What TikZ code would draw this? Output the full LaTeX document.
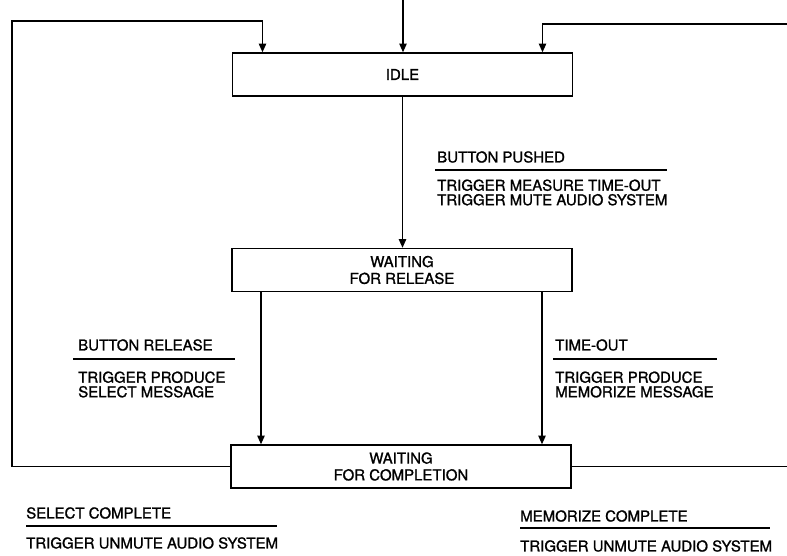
\documentclass[tikz,border=0pt]{standalone}
\usepackage{fontspec}
\setmainfont{TeX Gyre Heros}
\newfontfamily\diagfont{TeX Gyre Heros}[FakeBold=1.2]
\usetikzlibrary{arrows.meta,positioning}

\begin{document}
\begin{tikzpicture}[
    x=0.03cm, y=-0.03cm,
    statebox/.style={rectangle, draw=black, line width=1.2pt,
                     minimum width=10.2cm, minimum height=1.29cm, align=center,
                     inner sep=0pt, font=\diagfont\fontsize{12.8}{14.3}\selectfont},
    evtext/.style={anchor=west, inner sep=0pt, align=left,
                   font=\diagfont\fontsize{12.8}{12.4}\selectfont},
    wire/.style={line width=1.2pt},
    arr/.style={-{Triangle[length=0.26cm, width=0.22cm]}, line width=1.2pt}
  ]
    \useasboundingbox (0,0) rectangle (787,555);

    % States
    \node[statebox] (idle)  at (402.5, 74.5) {IDLE};
    \node[statebox] (wrel)  at (402,  270)   {WAITING\\FOR RELEASE};
    \node[statebox] (wcomp) at (401,  466.5) {WAITING\\FOR COMPLETION};

    % Free ends leaving the picture
    \coordinate (entry) at (403, 0);
    \coordinate (retL)  at (12,  21);
    \coordinate (retR)  at (787, 24);
    \coordinate (outR)  at (787, 468);

    \draw[arr] (entry) -- (entry |- idle.north);
    \draw[arr] (wcomp.west) -| (retL) -| ([xshift=-4.2cm]idle.north);
    \draw[arr] (retR) -| ([xshift=4.2cm]idle.north);
    \draw[wire] (wcomp.east) -- (wcomp.east -| outR);

    \draw[arr] (idle.south) -- (idle.south |- wrel.north);
    \draw[arr] ([xshift=-4.23cm]wrel.south) -- ([xshift=-4.23cm]wrel.south |- wcomp.north);
    \draw[arr] ([xshift=4.2cm]wrel.south) -- ([xshift=4.2cm]wrel.south |- wcomp.north);

    % Transition labels: event over the rule, action under it
    \node[evtext] (pushed)    at (437, 157)   {BUTTON PUSHED};
    \draw[wire] (435, 170) -- (667, 170);
    \node[evtext] (pushedact) at (437, 192.5) {TRIGGER MEASURE TIME-OUT\\TRIGGER MUTE AUDIO SYSTEM};

    \node[evtext] (release)    at (78, 345)   {BUTTON RELEASE};
    \draw[wire] (73, 359) -- (235, 359);
    \node[evtext] (releaseact) at (78, 384.5) {TRIGGER PRODUCE\\SELECT MESSAGE};

    \node[evtext] (tout)    at (555, 345)   {TIME-OUT};
    \draw[wire] (553, 359) -- (717, 359);
    \node[evtext] (toutact) at (555, 384.5) {TRIGGER PRODUCE\\MEMORIZE MESSAGE};

    \node[evtext] (selcomp)    at (26, 513) {SELECT COMPLETE};
    \draw[wire] (26, 526) -- (277, 526);
    \node[evtext] (selcompact) at (26, 543) {TRIGGER UNMUTE AUDIO SYSTEM};

    \node[evtext] (memcomp)    at (520, 516) {MEMORIZE COMPLETE};
    \draw[wire] (520, 528) -- (770, 528);
    \node[evtext] (memcompact) at (520, 546) {TRIGGER UNMUTE AUDIO SYSTEM};
  \end{tikzpicture}
\end{document}
